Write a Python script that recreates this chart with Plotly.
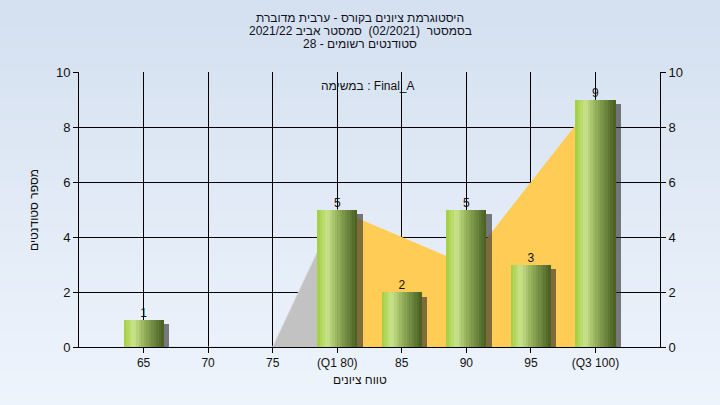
import plotly.graph_objects as go

# ---- data ----
categories = [65, 70, 75, 80, 85, 90, 95, 100]
tick_labels = ["65", "70", "75", "(Q1 80)", "85", "90", "95", "(Q3 100)"]
counts = [1, 0, 0, 5, 2, 5, 3, 9]

below_q1_x = [65, 70, 75, 80]
below_q1_y = [0, 0, 0, 5]
q1_q3_x = [80, 85, 90, 95, 100]
q1_q3_y = [5, 4, 3, 6, 9]

title_lines = [
    "היסטוגרמת ציונים בקורס - ערבית מדוברת",
    "בסמסטר  (02/2021)  סמסטר אביב 2021/22",
    "סטודנטים רשומים - 28",
]
legend_text = "במשימה : Final_A"
x_title = "טווח ציונים"
y_title = "מספר סטודנטים"

FONT = "Liberation Sans, Arial, sans-serif"
TXT = "#111111"

fig = go.Figure()

# areas (main subplot, drawn first)
fig.add_trace(go.Scatter(x=below_q1_x, y=below_q1_y, mode="lines", fill="tozeroy",
                         fillcolor="#C2C2C2", line=dict(color="#D8D8D8", width=1),
                         showlegend=False, hoverinfo="skip"))
fig.add_trace(go.Scatter(x=q1_q3_x, y=q1_q3_y, mode="lines", fill="tozeroy",
                         fillcolor="#FFCC55", line=dict(color="#FFCC55", width=0),
                         showlegend=False, hoverinfo="skip"))

BAR_W = 3.1
# shadow (overlay subplot, above areas)
fig.add_trace(go.Bar(x=categories, y=counts, base=-0.18, width=BAR_W, offset=-BAR_W / 2 + 0.42,
                     marker=dict(color="rgba(40,40,40,0.6)", line=dict(width=0)),
                     yaxis="y2", showlegend=False, hoverinfo="skip"))

# gradient strips (cylinder look)
stops = [(0.0, (160, 205, 62)), (0.25, (202, 228, 142)), (0.5, (150, 178, 90)),
         (0.78, (105, 130, 60)), (1.0, (70, 93, 30))]


def grad(t):
    for (t0, c0), (t1, c1) in zip(stops[:-1], stops[1:]):
        if t0 <= t <= t1:
            f = (t - t0) / (t1 - t0)
            return "rgb(%d,%d,%d)" % tuple(round(a + (b - a) * f) for a, b in zip(c0, c1))
    return "rgb(%d,%d,%d)" % stops[-1][1]


N = 16
sw = BAR_W / N
for i in range(N):
    fig.add_trace(go.Bar(x=categories, y=counts, width=sw * 1.05, offset=-BAR_W / 2 + i * sw,
                         marker=dict(color=grad((i + 0.5) / N), line=dict(width=0)),
                         yaxis="y2", showlegend=False, hoverinfo="skip"))

# value labels
fig.add_trace(go.Scatter(x=categories, y=counts, mode="text",
                         text=[str(c) if c else "" for c in counts],
                         textposition="top center", textfont=dict(family=FONT, size=12, color=TXT),
                         yaxis="y2", showlegend=False, hoverinfo="skip"))

# background gradient
nb = 40
top = (212, 224, 240)
bot = (238, 244, 252)
y0p, y1p = -58 / 275, 1 + 72 / 275
for k in range(nb):
    f = k / (nb - 1)
    col = "rgb(%d,%d,%d)" % tuple(round(a + (b - a) * f) for a, b in zip(top, bot))
    ya = y1p - (y1p - y0p) * k / nb
    yb = y1p - (y1p - y0p) * (k + 1) / nb
    fig.add_shape(type="rect", xref="paper", yref="paper", x0=-0.2, x1=1.2, y0=yb - 0.002, y1=ya + 0.01,
                  fillcolor=col, line=dict(width=0), layer="below")

annotations = []
for line_text, yp in zip(title_lines, [1 + 54 / 275, 1 + 41 / 275, 1 + 28 / 275]):
    annotations.append(dict(text=line_text, xref="paper", yref="paper", x=(360 - 79) / 581, y=yp,
                            xanchor="center", yanchor="middle", showarrow=False,
                            font=dict(family=FONT, size=12, color="#111122")))
annotations.append(dict(text=legend_text, xref="paper", yref="paper", x=(368 - 79) / 581, y=1 - 14 / 275,
                        xanchor="center", yanchor="middle", showarrow=False,
                        font=dict(family=FONT, size=12, color=TXT)))
annotations.append(dict(text=x_title, xref="paper", yref="paper", x=(360 - 79) / 581, y=-(380 - 347) / 275,
                        xanchor="center", yanchor="middle", showarrow=False,
                        font=dict(family=FONT, size=12, color=TXT)))
annotations.append(dict(text=y_title, xref="paper", yref="paper", x=(34 - 79) / 581, y=(347 - 210) / 275,
                        xanchor="center", yanchor="middle", showarrow=False, textangle=-90,
                        font=dict(family=FONT, size=12, color=TXT)))

fig.update_layout(
    width=720, height=405,
    margin=dict(l=79, r=60, t=72, b=58, autoexpand=False),
    paper_bgcolor="#E2EAF6",
    plot_bgcolor="#B3B3B3",
    barmode="overlay",
    bargap=0,
    font=dict(family=FONT, size=12, color=TXT),
    xaxis=dict(range=[60, 105], tickmode="array", tickvals=categories, ticktext=tick_labels,
               showgrid=True, gridcolor="#000000", gridwidth=1, zeroline=False,
               showline=True, linecolor="#000000", linewidth=1, automargin=False,
               ticks="outside", ticklen=5, tickcolor="#000000",
               tickfont=dict(family=FONT, size=12, color=TXT)),
    yaxis=dict(range=[0, 10], tickvals=[0, 2, 4, 6, 8, 10], showgrid=True, gridcolor="#000000",
               gridwidth=1, zeroline=False, showline=True, linecolor="#000000", linewidth=1,
               automargin=False, ticks="outside", ticklen=5, tickcolor="#000000",
               tickfont=dict(family=FONT, size=13, color=TXT)),
    yaxis2=dict(range=[0, 10], tickvals=[0, 2, 4, 6, 8, 10], overlaying="y", side="right",
                showgrid=False, zeroline=False, showline=True, linecolor="#000000", linewidth=1,
                automargin=False, ticks="outside", ticklen=5, tickcolor="#000000",
                tickfont=dict(family=FONT, size=13, color=TXT)),
    annotations=annotations,
)

fig.write_html("out.html", config={"displayModeBar": False},
               post_script="document.body.style.margin='0px';")
